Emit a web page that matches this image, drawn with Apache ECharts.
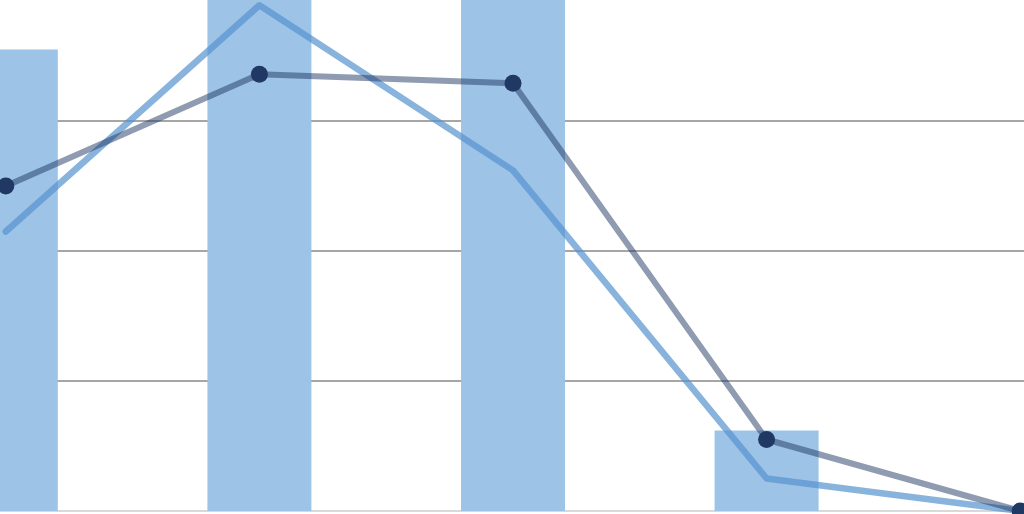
<!DOCTYPE html>
<html><head><meta charset="utf-8">
<script src="https://cdn.jsdelivr.net/npm/echarts@6/dist/echarts.min.js"></script>
<style>html,body{margin:0;padding:0;background:#fff;overflow:hidden;width:1024px;height:514px;position:relative}
#c{position:absolute;left:-121.5px;top:-139px;width:1267.5px;height:653px}</style>
</head><body><div id="c"></div>
<script>
const categories = ['A', 'B', 'C', 'D', 'E'];
const barValues = [3.55, 4.6, 4.4, 0.62, 0];
const darkLine = [2.50, 3.36, 3.29, 0.55, 0.0];
const lightLine = [2.15, 3.89, 2.62, 0.25, 0.0];

const chart = echarts.init(document.getElementById('c'), null, {renderer: 'canvas'});
chart.setOption({
  animation: false,
  backgroundColor: '#ffffff',
  grid: {left: 0, top: 0, right: 0, bottom: 3},
  xAxis: {
    type: 'category', data: categories,
    axisLine: {show: true, lineStyle: {color: '#d9d9d9', width: 2}},
    axisTick: {show: false}, axisLabel: {show: false}
  },
  yAxis: {
    type: 'value', min: 0, max: 5, interval: 1,
    axisLine: {show: false}, axisTick: {show: false}, axisLabel: {show: false},
    splitLine: {lineStyle: {color: '#a6a6a6', width: 2}}
  },
  series: [
    {type: 'bar', data: barValues, barWidth: 104, itemStyle: {color: '#9dc3e6'}, z: 2},
    {type: 'line', data: lightLine, symbol: 'none', z: 3,
     lineStyle: {color: '#5593cf', width: 6.5, opacity: 0.7, cap: 'round', join: 'round'}},
    {type: 'line', data: darkLine, symbol: 'circle', symbolSize: 17, z: 4,
     itemStyle: {color: '#1f3864'},
     lineStyle: {color: '#1f3864', width: 6, opacity: 0.5, join: 'round'}}
  ]
});
</script></body></html>
